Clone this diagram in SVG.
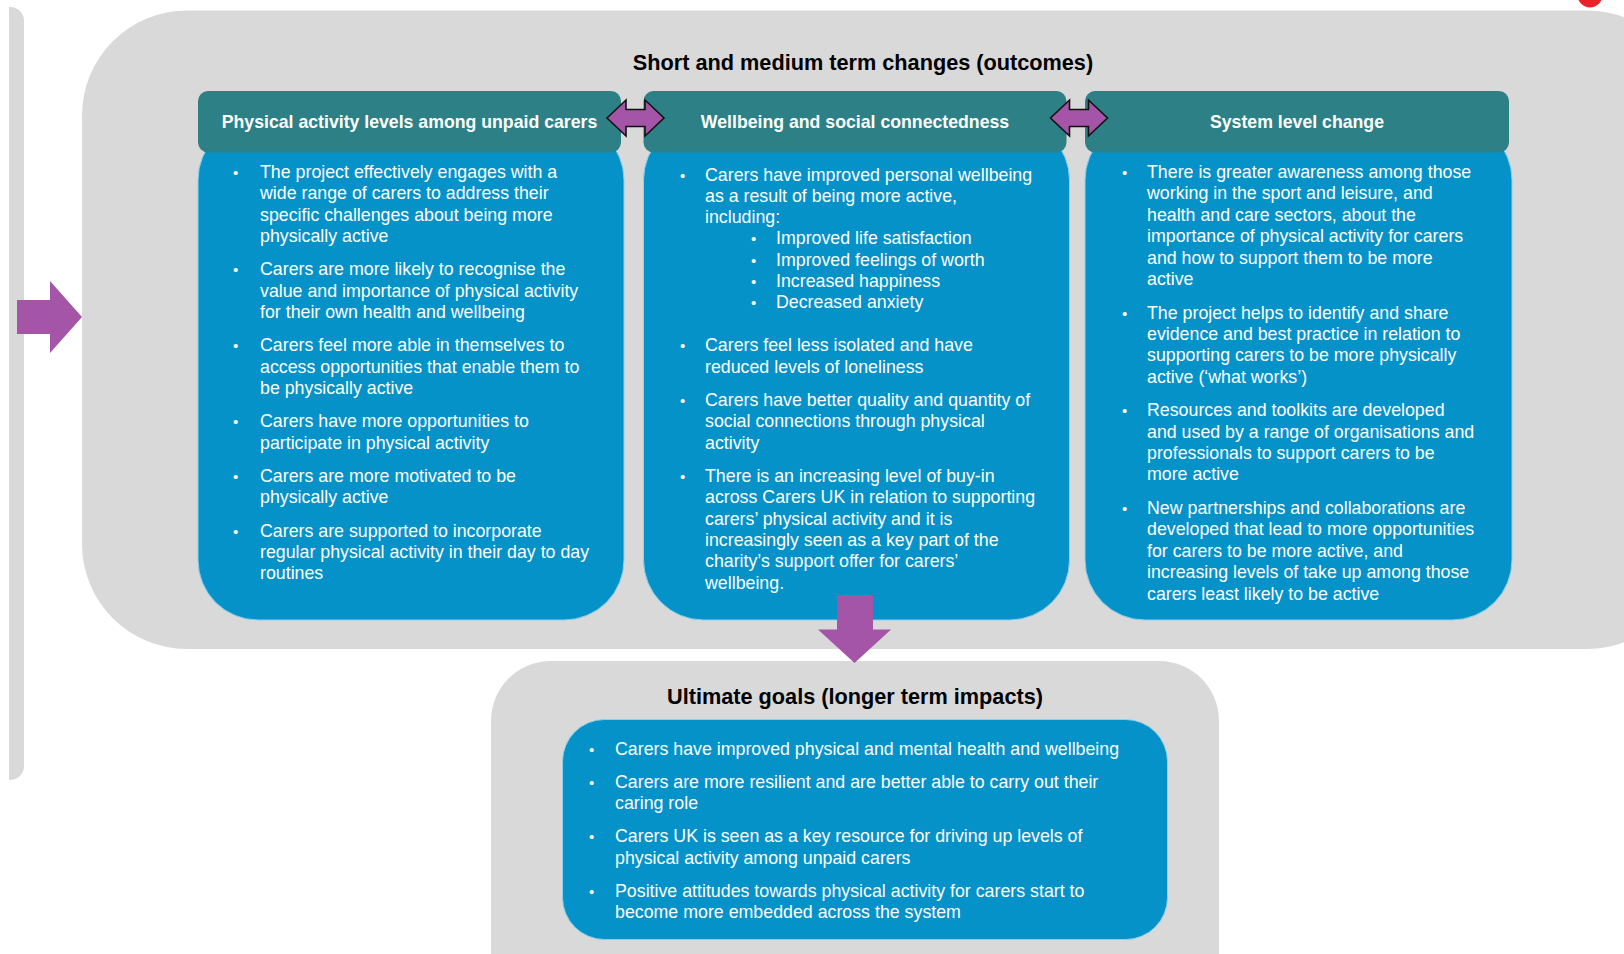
<svg xmlns="http://www.w3.org/2000/svg" width="1624" height="954" viewBox="0 0 1624 954">
<style>
.bg{fill:#d9d9d9}
.hdr{fill:#2d8085}
.blue{fill:#0492c9;stroke:#8fd0ea;stroke-width:1}
.arr{fill:#a555a8}
.darr{fill:#a555a8;stroke:#111;stroke-width:1.6;stroke-linejoin:miter}
.title{font-family:"Liberation Sans",Arial,sans-serif;font-weight:bold;font-size:21.7px;fill:#000;text-anchor:middle}
.htxt{font-family:"Liberation Sans",Arial,sans-serif;font-weight:bold;font-size:17.7px;fill:#fff;text-anchor:middle}
.body{font-family:"Liberation Sans",Arial,sans-serif;font-size:17.8px;fill:#fff}
.b{font-size:15px}
</style>
<rect width="1624" height="954" fill="#fff"/>
<path class="bg" d="M9,7 H10 A14,14 0 0 1 24,21 V766 A14,14 0 0 1 10,780 H9 Z"/>
<circle cx="1590" cy="-5" r="12.5" fill="#e8242b"/>

<g id="outcomes">
<rect class="bg" x="82" y="10.5" width="1610" height="638.5" rx="105" ry="105"/>
<text class="title" x="863" y="70">Short and medium term changes (outcomes)</text>
</g>

<g id="col1">
<rect class="blue" x="198" y="120" width="426" height="500" rx="60" ry="60"/>
<rect class="hdr" x="198" y="91" width="423" height="61.5" rx="10" ry="10"/>
<text class="htxt" x="409.5" y="128">Physical activity levels among unpaid carers</text>
<text class="body">
<tspan class="b" x="233" y="178">•</tspan><tspan x="260" y="178">The project effectively engages with a</tspan>
<tspan x="260" y="199.3">wide range of carers to address their</tspan>
<tspan x="260" y="220.6">specific challenges about being more</tspan>
<tspan x="260" y="241.9">physically active</tspan>
<tspan class="b" x="233" y="275.3">•</tspan><tspan x="260" y="275.3">Carers are more likely to recognise the</tspan>
<tspan x="260" y="296.6">value and importance of physical activity</tspan>
<tspan x="260" y="317.9">for their own health and wellbeing</tspan>
<tspan class="b" x="233" y="351.3">•</tspan><tspan x="260" y="351.3">Carers feel more able in themselves to</tspan>
<tspan x="260" y="372.6">access opportunities that enable them to</tspan>
<tspan x="260" y="393.9">be physically active</tspan>
<tspan class="b" x="233" y="427.3">•</tspan><tspan x="260" y="427.3">Carers have more opportunities to</tspan>
<tspan x="260" y="448.6">participate in physical activity</tspan>
<tspan class="b" x="233" y="482">•</tspan><tspan x="260" y="482">Carers are more motivated to be</tspan>
<tspan x="260" y="503.3">physically active</tspan>
<tspan class="b" x="233" y="536.7">•</tspan><tspan x="260" y="536.7">Carers are supported to incorporate</tspan>
<tspan x="260" y="558">regular physical activity in their day to day</tspan>
<tspan x="260" y="579.3">routines</tspan>
</text>
</g>

<g id="col2">
<rect class="blue" x="643.5" y="120" width="426" height="500" rx="60" ry="60"/>
<rect class="hdr" x="643.5" y="91" width="423" height="61.5" rx="10" ry="10"/>
<text class="htxt" x="855" y="128">Wellbeing and social connectedness</text>
<text class="body">
<tspan class="b" x="680" y="180.5">•</tspan><tspan x="705" y="180.5">Carers have improved personal wellbeing</tspan>
<tspan x="705" y="201.8">as a result of being more active,</tspan>
<tspan x="705" y="223.1">including:</tspan>
<tspan class="b" x="751" y="244.4">•</tspan><tspan x="776" y="244.4">Improved life satisfaction</tspan>
<tspan class="b" x="751" y="265.7">•</tspan><tspan x="776" y="265.7">Improved feelings of worth</tspan>
<tspan class="b" x="751" y="287">•</tspan><tspan x="776" y="287">Increased happiness</tspan>
<tspan class="b" x="751" y="308.3">•</tspan><tspan x="776" y="308.3">Decreased anxiety</tspan>
<tspan class="b" x="680" y="351.3">•</tspan><tspan x="705" y="351.3">Carers feel less isolated and have</tspan>
<tspan x="705" y="372.6">reduced levels of loneliness</tspan>
<tspan class="b" x="680" y="406">•</tspan><tspan x="705" y="406">Carers have better quality and quantity of</tspan>
<tspan x="705" y="427.3">social connections through physical</tspan>
<tspan x="705" y="448.6">activity</tspan>
<tspan class="b" x="680" y="482">•</tspan><tspan x="705" y="482">There is an increasing level of buy-in</tspan>
<tspan x="705" y="503.3">across Carers UK in relation to supporting</tspan>
<tspan x="705" y="524.6">carers’ physical activity and it is</tspan>
<tspan x="705" y="545.9">increasingly seen as a key part of the</tspan>
<tspan x="705" y="567.2">charity’s support offer for carers’</tspan>
<tspan x="705" y="588.5">wellbeing.</tspan>
</text>
</g>

<g id="col3">
<rect class="blue" x="1085" y="120" width="427" height="500" rx="60" ry="60"/>
<rect class="hdr" x="1085" y="91" width="424" height="61.5" rx="10" ry="10"/>
<text class="htxt" x="1297" y="128">System level change</text>
<text class="body">
<tspan class="b" x="1122" y="178">•</tspan><tspan x="1147" y="178">There is greater awareness among those</tspan>
<tspan x="1147" y="199.4">working in the sport and leisure, and</tspan>
<tspan x="1147" y="220.8">health and care sectors, about the</tspan>
<tspan x="1147" y="242.2">importance of physical activity for carers</tspan>
<tspan x="1147" y="263.6">and how to support them to be more</tspan>
<tspan x="1147" y="285">active</tspan>
<tspan class="b" x="1122" y="318.5">•</tspan><tspan x="1147" y="318.5">The project helps to identify and share</tspan>
<tspan x="1147" y="339.9">evidence and best practice in relation to</tspan>
<tspan x="1147" y="361.3">supporting carers to be more physically</tspan>
<tspan x="1147" y="382.7">active (‘what works’)</tspan>
<tspan class="b" x="1122" y="416.2">•</tspan><tspan x="1147" y="416.2">Resources and toolkits are developed</tspan>
<tspan x="1147" y="437.6">and used by a range of organisations and</tspan>
<tspan x="1147" y="459">professionals to support carers to be</tspan>
<tspan x="1147" y="480.4">more active</tspan>
<tspan class="b" x="1122" y="513.9">•</tspan><tspan x="1147" y="513.9">New partnerships and collaborations are</tspan>
<tspan x="1147" y="535.3">developed that lead to more opportunities</tspan>
<tspan x="1147" y="556.7">for carers to be more active, and</tspan>
<tspan x="1147" y="578.1">increasing levels of take up among those</tspan>
<tspan x="1147" y="599.5">carers least likely to be active</tspan>
</text>
</g>

<g id="goals">
<rect class="bg" x="491" y="661" width="728" height="360" rx="60" ry="60"/>
<text class="title" x="855" y="703.5">Ultimate goals (longer term impacts)</text>
<rect class="blue" x="562.5" y="719.5" width="605" height="220" rx="42" ry="42"/>
<text class="body">
<tspan class="b" x="589" y="754.5">•</tspan><tspan x="615" y="754.5">Carers have improved physical and mental health and wellbeing</tspan>
<tspan class="b" x="589" y="788">•</tspan><tspan x="615" y="788">Carers are more resilient and are better able to carry out their</tspan>
<tspan x="615" y="809.3">caring role</tspan>
<tspan class="b" x="589" y="842.3">•</tspan><tspan x="615" y="842.3">Carers UK is seen as a key resource for driving up levels of</tspan>
<tspan x="615" y="863.6">physical activity among unpaid carers</tspan>
<tspan class="b" x="589" y="896.8">•</tspan><tspan x="615" y="896.8">Positive attitudes towards physical activity for carers start to</tspan>
<tspan x="615" y="918.1">become more embedded across the system</tspan>
</text>
</g>

<g id="connectors">
<path class="arr" d="M17,300 H50 V281 L82,317 L50,353 V334 H17 Z"/>
<path class="darr" d="M607,118 L626,100 L626,109.5 L645,109.5 L645,100 L664,118 L645,136 L645,126.5 L626,126.5 L626,136 Z"/>
<path class="darr" d="M1050.5,118 L1069.5,100 L1069.5,109.5 L1088.5,109.5 L1088.5,100 L1107.5,118 L1088.5,136 L1088.5,126.5 L1069.5,126.5 L1069.5,136 Z"/>
<path class="arr" d="M837,595 H873 V629.5 H891 L854.5,663 L818,629.5 H837 Z"/>
</g>
</svg>
